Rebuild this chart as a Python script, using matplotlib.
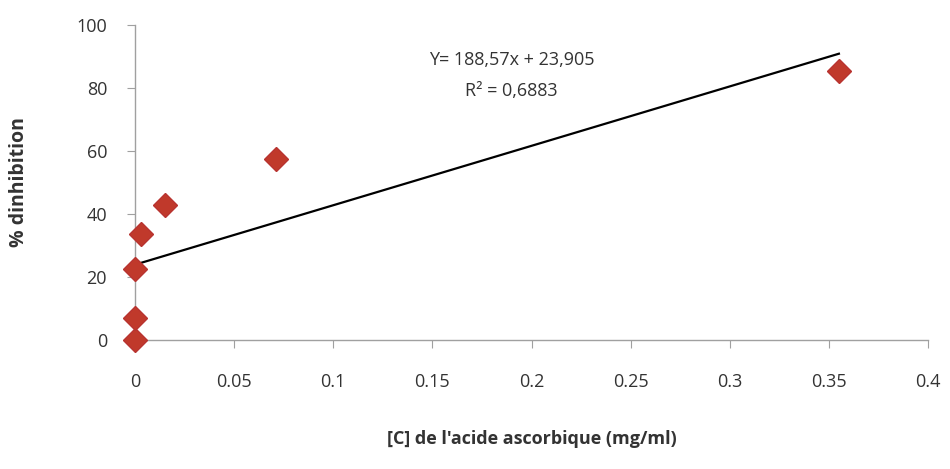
import numpy as np
import matplotlib.pyplot as plt

plt.rcParams['font.family'] = ['Liberation Sans Narrow', 'Open Sans', 'DejaVu Sans']

# concentration of ascorbic acid (mg/ml) and % inhibition
conc = [0.0, 0.0, 0.0, 0.003, 0.015, 0.071, 0.355]
inhib = [0.0, 7.0, 22.5, 33.5, 43.0, 57.5, 85.5]

# linear trend line from the chart
slope = 188.57
intercept = 23.905
eq_text = "Y= 188,57x + 23,905"
r2_text = "R² = 0,6883"

x_ticks = [0, 0.05, 0.1, 0.15, 0.2, 0.25, 0.3, 0.35, 0.4]
x_ticklabels = ["0", "0.05", "0.1", "0.15", "0.2", "0.25", "0.3", "0.35", "0.4"]
y_ticks = [0, 20, 40, 60, 80, 100]


def main():
    fig = plt.figure(figsize=(9.5, 4.69), dpi=100)
    ax = fig.add_axes([0.142, 0.275, 0.835, 0.672])

    xs = np.array([min(conc), max(conc)])
    ax.plot(xs, slope * xs + intercept, color='black', lw=1.6, zorder=2)

    ax.plot(conc, inhib, linestyle='none', marker='D', markersize=12,
            color='#C0392B', markeredgecolor='#B83330', clip_on=False, zorder=3)

    ax.set_xlim(0, 0.4)
    ax.set_ylim(0, 100)
    ax.set_xticks(x_ticks)
    ax.set_xticklabels(x_ticklabels)
    ax.set_yticks(y_ticks)

    for side in ['top', 'right']:
        ax.spines[side].set_visible(False)
    for side in ['left', 'bottom']:
        ax.spines[side].set_color('#A0A0A0')
        ax.spines[side].set_linewidth(1.0)

    ax.tick_params(axis='x', direction='out', length=6, color='#A0A0A0',
                   labelsize=13, labelcolor='#333333', pad=18)
    ax.tick_params(axis='y', direction='out', length=6, color='#A0A0A0',
                   labelsize=13, labelcolor='#333333', pad=14)

    ax.text(0.19, 84, eq_text + "\n" + r2_text, ha='center', va='center',
            fontsize=13, color='#333333', linespacing=1.9)

    ax.set_xlabel("[C] de l'acide ascorbique (mg/ml)", fontsize=13,
                  fontweight='bold', color='#333333', labelpad=28)
    ax.set_ylabel("% dinhibition", fontsize=14, fontweight='bold',
                  color='#333333', labelpad=34)

    fig.savefig("out.png", dpi=100)


if __name__ == "__main__":
    main()
